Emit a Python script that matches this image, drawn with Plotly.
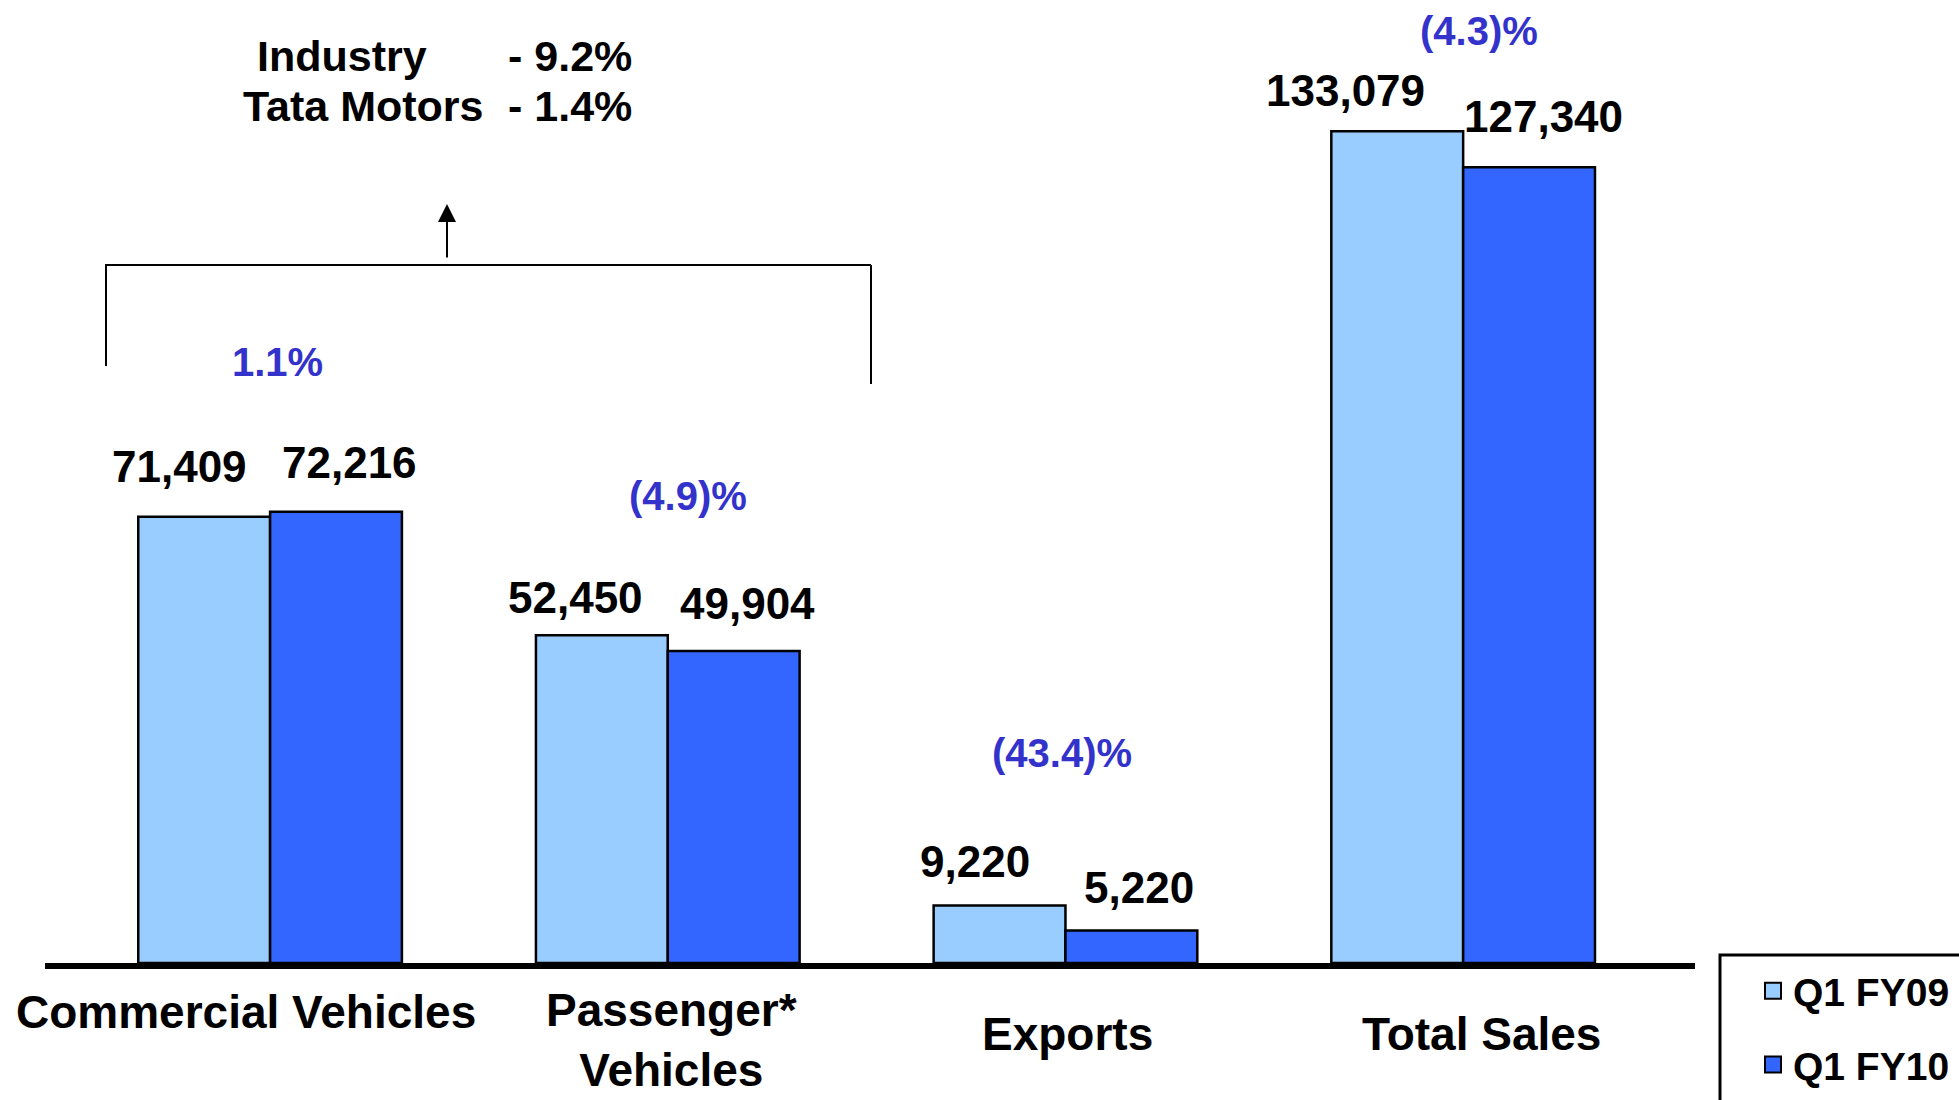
import plotly.graph_objects as go

# ---------------- data ----------------
categories = ["Commercial Vehicles", "Passenger* Vehicles", "Exports", "Total Sales"]
cat_labels = ["Commercial Vehicles", "Passenger*<br>Vehicles", "Exports", "Total Sales"]
series_names = ["Q1 FY09", "Q1 FY10"]
q1_fy09 = [71409, 52450, 9220, 133079]
q1_fy10 = [72216, 49904, 5220, 127340]
growth_labels = ["1.1%", "(4.9)%", "(43.4)%", "(4.3)%"]
summary_names = ["Industry", "Tata Motors"]
summary_values = ["- 9.2%", "- 1.4%"]

# ---------------- styles / layout helpers ----------------
W, H = 1959, 1100
L, R, T, B = 45, 264, 0, 137
PW, PH = W - L - R, H - T - B
FONT = "Liberation Sans, Arial, Helvetica, sans-serif"
LIGHT, DARK = "#99CCFF", "#3366FF"
BLUE_TXT = "#3333CC"


def px_x(p):  # pixel -> paper x
    return (p - L) / PW


def px_y(p):  # pixel -> paper y
    return (H - B - p) / PH


fig = go.Figure()
for name, vals, col in [(series_names[0], q1_fy09, LIGHT), (series_names[1], q1_fy10, DARK)]:
    fig.add_trace(go.Bar(
        name=name, x=list(range(len(categories))), y=vals,
        marker=dict(color=col, line=dict(color="black", width=2.5)),
        hoverinfo="y", showlegend=False, legendgroup=name,
    ))
# legend entries (larger square swatches, like the original)
for name, col in [(series_names[0], LIGHT), (series_names[1], DARK)]:
    fig.add_trace(go.Scatter(
        name=name, x=[None], y=[None], mode="markers", legendgroup=name,
        marker=dict(symbol="square", size=16, color=col,
                    line=dict(color="black", width=2)),
    ))

annotations = []
# value labels (offsets in px relative to the bar centre / top)
half = 0.1658  # half a bar in category units
lab_dx = [(-25, 13), (-26, 14), (-25, 8), (-52, 14)]
lab_dy = [(50, 49), (38, 48), (44, 43), (41, 51)]
for i in range(len(categories)):
    for k, vals in enumerate([q1_fy09, q1_fy10]):
        annotations.append(dict(
            x=i + (-half if k == 0 else half), y=vals[i], xref="x", yref="y",
            text=f"{vals[i]:,}", showarrow=False,
            xshift=lab_dx[i][k], yshift=lab_dy[i][k],
            yanchor="middle", xanchor="center",
            font=dict(family=FONT, size=44, color="black", weight="bold"),
        ))

# growth % labels
g_dx = [7, 20, -3, 16]
g_py = [362, 496, 753, 31]
for i, g in enumerate(growth_labels):
    annotations.append(dict(
        x=i, y=px_y(g_py[i]), xref="x", yref="paper", text=g, showarrow=False,
        xshift=g_dx[i], xanchor="center", yanchor="middle",
        font=dict(family=FONT, size=40, color=BLUE_TXT, weight="bold"),
    ))

# category labels
c_dx = [-24, 4, 2, 18]
c_py = [1012, 1040, 1034, 1034]
for i, c in enumerate(cat_labels):
    annotations.append(dict(
        x=i, y=px_y(c_py[i]), xref="x", yref="paper", text=c, showarrow=False,
        xshift=c_dx[i], xanchor="center", yanchor="middle",
        font=dict(family=FONT, size=46, color="black", weight="bold"),
    ))

# summary text
name_x = [255, 241]
row_y = [56, 106]
for j in range(2):
    annotations.append(dict(
        x=px_x(name_x[j]), y=px_y(row_y[j]), xref="paper", yref="paper",
        text=summary_names[j], showarrow=False, xanchor="left", yanchor="middle",
        font=dict(family=FONT, size=43, color="black", weight="bold"),
    ))
    annotations.append(dict(
        x=px_x(634), y=px_y(row_y[j]), xref="paper", yref="paper",
        text=summary_values[j], showarrow=False, xanchor="right", yanchor="middle",
        font=dict(family=FONT, size=43, color="black", weight="bold"),
    ))

# arrow
annotations.append(dict(
    x=px_x(447), y=px_y(204), xref="paper", yref="paper", text="",
    showarrow=True, ax=0, ay=55, arrowhead=2, arrowsize=1.8, arrowwidth=2,
    arrowcolor="black",
))

shapes = [
    # bracket
    dict(type="line", xref="paper", yref="paper", x0=px_x(105), x1=px_x(871),
         y0=px_y(265), y1=px_y(265), line=dict(color="black", width=2)),
    dict(type="line", xref="paper", yref="paper", x0=px_x(106), x1=px_x(106),
         y0=px_y(265), y1=px_y(366), line=dict(color="black", width=2)),
    dict(type="line", xref="paper", yref="paper", x0=px_x(871), x1=px_x(871),
         y0=px_y(265), y1=px_y(384), line=dict(color="black", width=2)),
    # legend frame
    dict(type="rect", xref="paper", yref="paper", x0=px_x(1720), x1=px_x(2200),
         y0=px_y(1300), y1=px_y(955), line=dict(color="black", width=3)),
]

fig.update_layout(
    width=W, height=H,
    margin=dict(l=L, r=R, t=T, b=B, pad=0),
    paper_bgcolor="white", plot_bgcolor="white",
    barmode="group", bargap=0.337, bargroupgap=0,
    xaxis=dict(range=[-0.566, 3.583], showticklabels=False, ticks="",
               showgrid=False, zeroline=False, showline=True,
               linecolor="black", linewidth=6, fixedrange=True),
    yaxis=dict(range=[0, 154080], visible=False, showgrid=False, zeroline=False),
    showlegend=True,
    legend=dict(x=px_x(1753), y=px_y(959), xanchor="left", yanchor="top",
                bgcolor="rgba(0,0,0,0)", borderwidth=0,
                font=dict(family=FONT, size=39, color="black", weight="bold"),
                tracegroupgap=20, traceorder="grouped", itemclick=False),
    annotations=annotations,
    shapes=shapes,
)

fig.write_html(
    "out.html",
    config={"displayModeBar": False},
    post_script="document.body.style.margin='0';document.body.style.overflow='hidden';",
)
